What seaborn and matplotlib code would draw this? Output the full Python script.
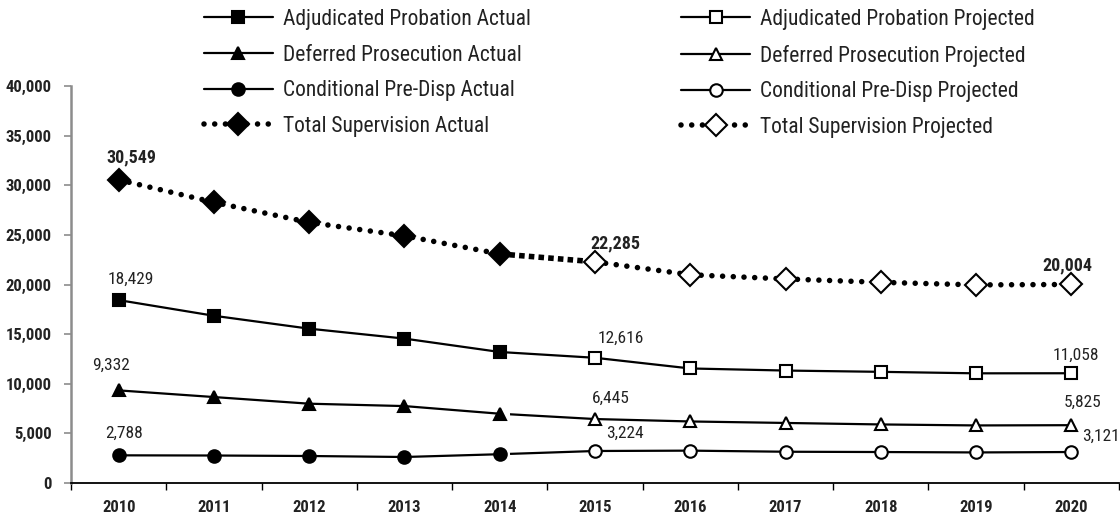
import matplotlib
matplotlib.use("Agg")
import matplotlib.pyplot as plt
import seaborn as sns
from matplotlib import font_manager
from matplotlib.ticker import FixedLocator, FuncFormatter

# ---------------- data ----------------
years_actual = [2010, 2011, 2012, 2013, 2014]
years_proj = [2015, 2016, 2017, 2018, 2019, 2020]

adj_actual = [18429, 16850, 15550, 14550, 13200]
adj_proj = [12616, 11540, 11330, 11200, 11050, 11058]
def_actual = [9332, 8660, 7990, 7750, 6980]
def_proj = [6445, 6200, 6050, 5900, 5800, 5825]
cond_actual = [2788, 2770, 2720, 2620, 2900]
cond_proj = [3224, 3260, 3150, 3120, 3080, 3121]
tot_actual = [30549, 28280, 26260, 24900, 23080]
tot_proj = [22285, 20980, 20560, 20220, 19960, 20004]

y_ticks = [0, 5000, 10000, 15000, 20000, 25000, 30000, 35000, 40000]

# ---------------- style ----------------
sns.set_theme(style="white")
fl = font_manager.fontManager.ttflist
names = {f.name for f in fl}
stretch = "normal"
if "Roboto Condensed" in names:
    main_font = "Roboto Condensed"
elif "Liberation Sans Narrow" in names:
    main_font = "Liberation Sans Narrow"
elif "Open Sans Condensed" in names:
    main_font = "Open Sans Condensed"
elif any(f.name == "Roboto" and str(f.stretch) in ("condensed", "semi-condensed", "75", "87")
         for f in fl):
    main_font, stretch = "Roboto", "condensed"
elif any(f.name == "DejaVu Sans" and str(f.stretch) in ("condensed", "semi-condensed") for f in fl):
    main_font, stretch = "DejaVu Sans", "condensed"
else:
    main_font = "Liberation Sans"
plt.rcParams["font.family"] = [main_font, "DejaVu Sans"]
plt.rcParams["font.stretch"] = stretch
plt.rcParams["lines.scale_dashes"] = False
TXT = "#222222"

fig = plt.figure(figsize=(11.2, 5.15), dpi=100)
ax = fig.add_axes([71 / 1120, 32 / 515, (1119 - 71) / 1120, (483 - 86) / 515])

solid_kw = dict(color="black", linewidth=1.6, markeredgecolor="black", markeredgewidth=1.5)
dot_kw = dict(color="black", linewidth=4.0, linestyle=(0, (0.01, 7.7)),
              dash_capstyle="round", markeredgecolor="black", markeredgewidth=1.5)

# connection segments 2014 -> 2015
sns.lineplot(x=[years_actual[-1], years_proj[0]], y=[adj_actual[-1], adj_proj[0]], ax=ax,
             color="black", linewidth=1.6, zorder=2)
sns.lineplot(x=[years_actual[-1], years_proj[0]], y=[def_actual[-1], def_proj[0]], ax=ax,
             color="black", linewidth=1.6, zorder=2)
sns.lineplot(x=[years_actual[-1], years_proj[0]], y=[cond_actual[-1], cond_proj[0]], ax=ax,
             color="black", linewidth=1.6, zorder=2)
sns.lineplot(x=[years_actual[-1], years_proj[0]], y=[tot_actual[-1], tot_proj[0]], ax=ax,
             color="black", linewidth=4.0, linestyle=(0, (4, 3)), dash_capstyle="butt", zorder=2)
# white halo gap after 2014 markers on two series
sns.lineplot(x=[years_actual[-1]], y=[def_actual[-1]], ax=ax, linestyle="none", marker="o",
             markersize=13, markerfacecolor="white", markeredgecolor="white", zorder=2.5)
sns.lineplot(x=[years_actual[-1]], y=[cond_actual[-1]], ax=ax, linestyle="none", marker="o",
             markersize=13, markerfacecolor="white", markeredgecolor="white", zorder=2.5)

series = [
    ("Adjudicated Probation Actual", years_actual, adj_actual, "s", "black", 8.5, solid_kw),
    ("Deferred Prosecution Actual", years_actual, def_actual, "^", "black", 9, solid_kw),
    ("Conditional Pre-Disp Actual", years_actual, cond_actual, "o", "black", 9, solid_kw),
    ("Total Supervision Actual", years_actual, tot_actual, "D", "black", 11, dot_kw),
    ("Adjudicated Probation Projected", years_proj, adj_proj, "s", "white", 8.5, solid_kw),
    ("Deferred Prosecution Projected", years_proj, def_proj, "^", "white", 9, solid_kw),
    ("Conditional Pre-Disp Projected", years_proj, cond_proj, "o", "white", 9, solid_kw),
    ("Total Supervision Projected", years_proj, tot_proj, "D", "white", 11, dot_kw),
]
for name, xs, ys, mk, fc, ms, kw in series:
    sns.lineplot(x=xs, y=ys, ax=ax, marker=mk, markersize=ms, markerfacecolor=fc,
                 label=name, zorder=3, **kw)

# ---------------- data labels ----------------
labels = [
    (years_actual, tot_actual, 0, 13, 22, True),
    (years_proj, tot_proj, 0, 20, 18, True),
    (years_proj, tot_proj, -1, -4, 19, True),
    (years_actual, adj_actual, 0, 12, 21, False),
    (years_proj, adj_proj, 0, 26, 19, False),
    (years_proj, adj_proj, -1, 5, 18, False),
    (years_actual, def_actual, 0, -8, 25, False),
    (years_proj, def_proj, 0, 16, 21, False),
    (years_proj, def_proj, -1, 11, 23, False),
    (years_actual, cond_actual, 0, 5, 22, False),
    (years_proj, cond_proj, 0, 30, 18, False),
    (years_proj, cond_proj, -1, 30, 16, False),
]
for xs, ys, i, dx, dy, bold in labels:
    ax.annotate(f"{ys[i]:,}", xy=(xs[i], ys[i]), xytext=(dx, dy), textcoords="offset pixels",
                ha="center", va="center", fontsize=13 if bold else 12.5,
                fontweight="bold" if bold else "normal", color=TXT, annotation_clip=False)

# ---------------- axes ----------------
all_years = years_actual + years_proj
ax.set_xlim(all_years[0] - 0.5, all_years[-1] + 0.5)
ax.set_ylim(y_ticks[0], y_ticks[-1])
ax.set_xlabel("")
ax.set_ylabel("")
ax.xaxis.set_major_locator(FixedLocator(all_years))
ax.xaxis.set_minor_locator(FixedLocator([y - 0.5 for y in all_years] + [all_years[-1] + 0.5]))
ax.set_xticklabels([str(y) for y in all_years])
ax.yaxis.set_major_locator(FixedLocator(y_ticks))
ax.yaxis.set_major_formatter(FuncFormatter(lambda v, p: f"{int(v):,}"))
ax.tick_params(axis="x", which="major", length=0, pad=12, labelsize=12, labelcolor=TXT)
ax.tick_params(axis="x", which="minor", length=5, width=1, color="black", direction="out", bottom=True)
ax.tick_params(axis="y", which="major", length=5, width=1.2, color="#8c8c8c", direction="out",
               pad=9, labelsize=12, labelcolor=TXT, left=True)
for lab in ax.get_xticklabels() + ax.get_yticklabels():
    lab.set_fontweight("bold")
for s in ("top", "right"):
    ax.spines[s].set_visible(False)
ax.spines["left"].set_color("#8c8c8c")
ax.spines["left"].set_linewidth(1.8)
ax.spines["bottom"].set_color("black")
ax.spines["bottom"].set_linewidth(1.3)
ax.grid(False)

# ---------------- legend ----------------
h, l = ax.get_legend_handles_labels()
order = [s[0] for s in series]
hl = {lab: hh for hh, lab in zip(h, l)}
leg = fig.legend([hl[o] for o in order], order, ncol=2, loc="upper left",
                 bbox_to_anchor=(204 / 1120, 1 - 9 / 515), frameon=False, fontsize=15.5,
                 handlelength=3.2, handletextpad=0.45, columnspacing=7.0, labelspacing=0.68,
                 numpoints=1, borderpad=0, borderaxespad=0)
for t in leg.get_texts():
    t.set_color(TXT)
if ax.get_legend() is not None:
    ax.get_legend().remove()

fig.savefig("out.png", dpi=100)
